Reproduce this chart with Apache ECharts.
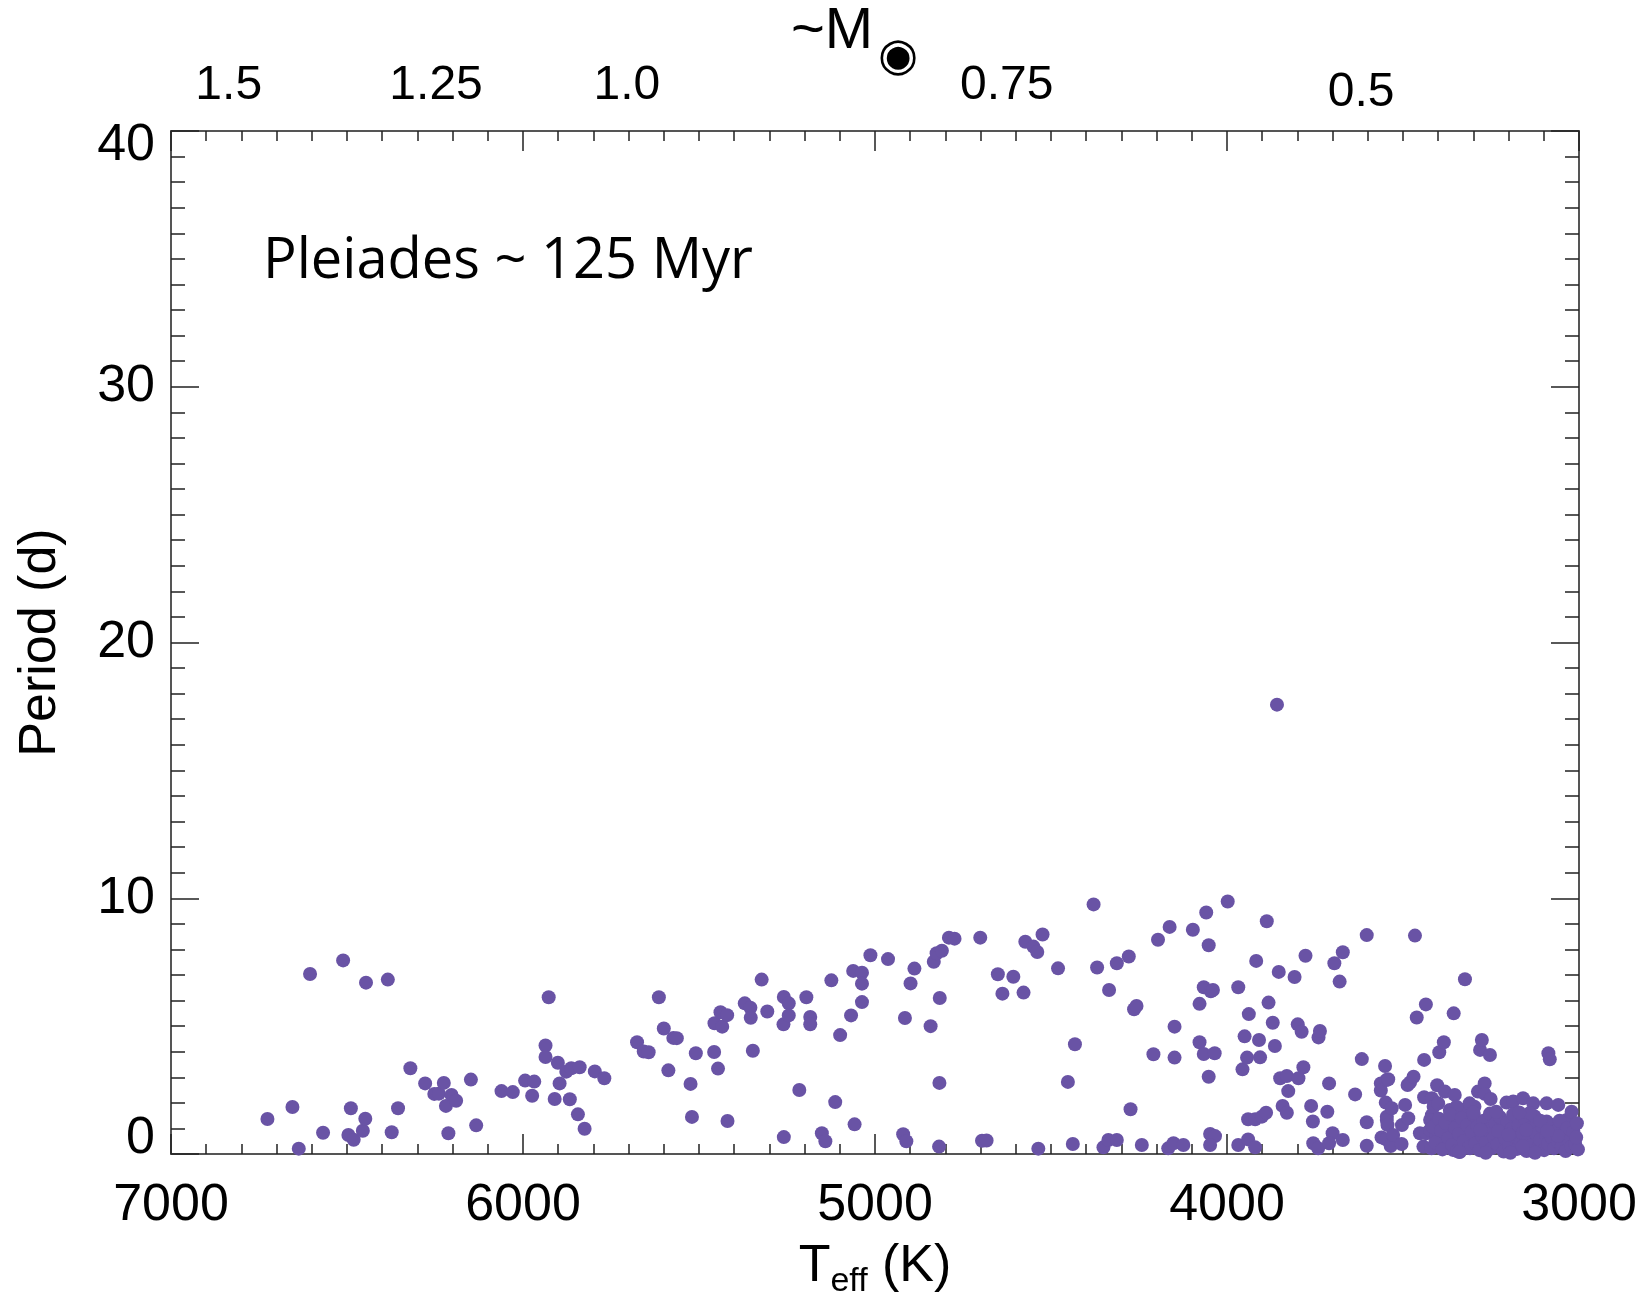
<!DOCTYPE html>
<html><head><meta charset="utf-8">
<script src="https://cdn.jsdelivr.net/npm/echarts@6/dist/echarts.min.js"></script>
<style>html,body{margin:0;padding:0;background:#fff}#c{width:1644px;height:1296px}</style>
</head><body><div id="c"></div>
<script>
// Teff (K) and rotation period (d) of Pleiades stars
const tempK = [
6726,6655,6637,6605,6568,6511,6496,6489,6481,6455,6448,6446,6384,6373,6355,6320,6278,6252,6239,6225,
6219,6212,6203,6190,6148,6133,6061,6029,5994,5974,5968,5936,5936,5927,5910,5901,5896,5877,5867,5863,
5844,5839,5825,5796,5769,5676,5657,5643,5614,5600,5587,5573,5563,5524,5520,5509,5457,5456,5446,5439,
5434,5420,5419,5370,5354,5353,5347,5322,5306,5260,5259,5259,5245,5245,5215,5195,5184,5184,5151,5141,
5124,5113,5099,5068,5062,5058,5037,5037,5037,5013,4963,4920,4915,4911,4899,4888,4842,4833,4825,4818,
4817,4816,4810,4790,4774,4701,4696,4683,4651,4638,4607,4578,4573,4550,4539,4536,4524,4480,4452,4438,
4432,4379,4369,4351,4337,4335,4313,4313,4279,4274,4264,4257,4242,4209,4196,4167,4163,4152,4149,4149,
4124,4097,4078,4078,4066,4066,4059,4052,4052,4048,4046,4040,4035,4034,4048,3998,3968,3968,3956,3950,
3943,3940,3938,3920,3917,3909,3906,3940,3920,3901,3889,3887,3882,3870,3864,3858,3853,3849,3842,3830,
3830,3826,3808,3799,3797,3788,3783,3777,3761,3756,3755,3741,3740,3736,3715,3710,3700,3710,3695,3680,
3671,3671,3636,3617,3603,3603,3603,3563,3563,3561,3551,3549,3548,3547,3546,3546,3544,3542,3535,3532,
3528,3504,3503,3494,3487,3485,3480,3470,3466,3461,3452,3442,3440,3440,3435,3434,3419,3418,3418,3413,
3403,3400,3397,3384,3381,3356,3353,3324,3297,3287,3281,3276,3268,3268,3253,3251,3206,3187,3159,3130,
3111,3092,3092,3087,3083,3059,3035,3021,
3423,3404,3386,3367,3347,3330,3311,3338,3319,3301,3376,3358,3338,3320,3395,3376,3358,3338,3310,3423,
3405,3367,3348,3330,3311,
3415,3408,3398,3392,3388,3379,3371,3366,3360,3352,3346,3341,3333,3327,3318,3312,3305,3299,3294,3288,
3283,3276,3271,3265,3259,3253,3248,3242,3237,3231,3225,3220,3214,3209,3203,3198,3192,3187,3182,3176,
3171,3165,3160,3154,3149,3143,3138,3132,3127,3121,3116,3110,3104,3099,3093,3088,3082,3077,3071,3066,
3060,3055,3049,3044,3038,3033,3027,3022,3016,3011,3006,3003,3008,3140,3170,3235,3300,3195,3125,3265,
3340,3230,3160,3110,3280,3060,3200,3150,3090
];
const periodD = [
1.37,1.84,0.21,7.04,0.83,7.57,0.74,1.79,0.56,0.91,1.38,6.70,6.82,0.85,1.79,3.35,2.76,2.35,2.36,2.78,
1.88,0.81,2.31,2.08,2.91,1.12,2.46,2.42,2.87,2.28,2.83,4.24,3.79,6.13,2.15,3.57,2.76,3.22,2.14,3.35,
1.55,3.39,0.99,3.23,2.96,4.37,4.01,3.98,6.13,4.91,3.27,4.54,4.53,2.74,1.45,3.94,3.99,5.11,3.34,5.54,
4.98,5.43,1.29,5.89,5.72,5.33,4.04,6.82,5.57,5.07,6.14,0.66,5.89,5.42,2.50,6.13,5.36,5.07,0.81,0.50,
6.79,2.03,4.65,5.42,7.16,1.16,7.09,6.66,5.94,7.77,7.62,0.77,5.32,0.50,6.67,7.25,5.00,7.52,7.85,0.29,
2.78,6.10,7.95,8.46,8.42,8.46,0.52,0.53,7.03,6.27,6.93,6.31,8.30,8.11,7.90,0.21,8.58,7.26,2.82,0.39,
4.29,9.76,7.29,0.26,0.55,6.41,0.55,7.46,7.72,1.75,5.66,5.79,0.35,3.90,8.38,0.22,8.88,0.42,4.98,3.77,
0.35,8.77,5.87,4.37,3.91,6.52,9.44,8.16,3.02,0.78,6.36,6.41,3.94,0.70,0.35,9.87,6.52,0.35,3.31,4.60,
3.77,0.57,5.47,0.26,7.55,4.46,3.78,1.36,1.36,1.46,1.61,9.10,5.92,5.13,4.22,17.57,7.12,2.96,1.88,3.05,
1.61,2.46,6.92,5.07,2.96,4.78,3.39,7.75,1.88,1.27,0.42,0.22,4.56,4.81,1.65,2.76,0.81,0.42,7.46,6.74,
7.89,0.55,2.33,3.71,8.56,1.24,0.32,2.76,2.48,0.65,3.44,2.01,0.57,2.89,1.46,1.33,1.13,2.92,0.31,1.79,
0.74,0.39,1.13,1.92,2.70,1.40,2.80,3.02,8.54,5.34,0.81,0.29,3.68,2.22,5.85,0.81,0.22,2.18,1.52,1.85,
2.69,1.98,3.98,4.37,2.44,5.50,2.31,6.83,1.85,2.44,4.07,4.46,2.76,2.35,3.87,2.15,2.01,2.05,2.18,1.98,
1.20,1.27,1.98,3.94,3.70,1.92,1.33,1.65,
1.33,1.20,1.07,1.33,1.46,1.72,1.98,1.20,0.94,1.33,0.81,0.68,0.55,0.42,0.55,0.29,0.16,0.09,0.22,0.94,
0.74,1.72,1.85,1.33,0.81,
1.05,0.45,1.38,0.92,0.18,1.22,0.62,1.55,0.35,1.02,0.12,0.78,1.40,0.50,1.12,0.28,0.88,1.52,0.42,1.08,
0.15,0.72,1.30,0.48,0.95,1.58,0.22,0.66,1.18,0.38,1.45,0.85,0.10,0.58,1.25,0.32,0.98,1.55,0.68,0.20,
1.12,0.45,0.82,1.38,0.12,0.60,1.02,0.35,1.48,0.78,0.25,0.55,1.05,0.15,0.72,0.40,1.15,0.62,0.22,0.90,
0.48,1.30,0.30,0.75,0.12,1.02,0.52,0.28,0.85,0.40,1.20,0.18,0.65,1.60,1.62,1.65,1.62,0.05,0.05,0.05,
0.08,0.90,0.30,1.30,0.95,0.70,0.75,0.95,0.90
];
// approximate stellar masses marked along the top axis, at their Teff
const massLabels = ['1.5','1.25','1.0','0.75','0.5'];
const massTeff = [6836, 6247, 5705, 4626, 3619];

const FONT = 'Liberation Sans, Arial, Helvetica, sans-serif';
const points = tempK.map((t, i) => [t, periodD[i]]);

const tickStyle = { color: '#222', width: 1.5 };
const lineStyle = { color: '#555', width: 2 };

function xAx(pos, labels) {
  return {
    type: 'value', position: pos, min: 3000, max: 7000, interval: 1000, inverse: true,
    axisLine: { show: true, onZero: false, lineStyle },
    axisTick: { show: true, inside: true, length: 20, lineStyle: tickStyle },
    minorTick: { show: true, splitNumber: 10, length: 10, lineStyle: tickStyle },
    splitLine: { show: false }, minorSplitLine: { show: false },
    axisLabel: { show: labels, fontSize: 52, fontFamily: FONT, color: '#000', margin: 26,
      formatter: v => String(v) }
  };
}
function yAx(pos, labels) {
  return {
    type: 'value', position: pos, min: 0, max: 40, interval: 10,
    axisLine: { show: true, onZero: false, lineStyle },
    axisTick: { show: true, inside: true, length: 28, lineStyle: tickStyle },
    minorTick: { show: true, splitNumber: 10, length: 14, lineStyle: tickStyle },
    splitLine: { show: false }, minorSplitLine: { show: false },
    axisLabel: {
      show: labels, color: '#000', margin: 16,
      formatter: v => v === 0 ? '{lo|0}' : (v === 40 ? '{hi|40}' : '{n|' + v + '}'),
      rich: {
        n: { fontSize: 52, fontFamily: FONT, color: '#000' },
        lo: { fontSize: 52, fontFamily: FONT, color: '#000', padding: [0, 0, 30, 0] },
        hi: { fontSize: 52, fontFamily: FONT, color: '#000', padding: [30, 0, 0, 0] }
      }
    }
  };
}

const xb = xAx('bottom', true);
xb.name = '{t|T}{s|eff}{t| (K)}';
xb.nameLocation = 'middle';
xb.nameGap = 79;
xb.nameTextStyle = {
  rich: {
    t: { fontSize: 52, fontFamily: FONT, color: '#000', lineHeight: 60, verticalAlign: 'bottom' },
    s: { fontSize: 34, fontFamily: FONT, color: '#000', lineHeight: 44, verticalAlign: 'bottom', padding: [0, 0, -6, 0] }
  }
};
const xt = xAx('top', false);
// mass scale along the top
const xm = {
  type: 'value', position: 'top', min: 3000, max: 7000, inverse: true,
  axisLine: { show: false }, axisTick: { show: false }, splitLine: { show: false },
  axisLabel: {
    show: true, margin: 14, customValues: massTeff,
    formatter: v => {
      const i = massTeff.indexOf(v);
      const s = i >= 0 ? massLabels[i] : '';
      return i === massTeff.length - 1 ? '{d|' + s + '}' : '{u|' + s + '}';
    },
    rich: {
      u: { fontSize: 48, fontFamily: FONT, color: '#000', padding: [0, 0, 7, 0] },
      d: { fontSize: 48, fontFamily: FONT, color: '#000', padding: [0, 0, 0, 0] }
    }
  }
};
const yl = yAx('left', true);
yl.name = 'Period (d)';
yl.nameLocation = 'middle';
yl.nameGap = 104;
yl.nameTextStyle = { fontSize: 52, fontFamily: FONT, color: '#000' };

const option = {
  animation: false,
  backgroundColor: '#fff',
  title: [
    {
      text: '~M', left: 786, top: -6,
      textStyle: { fontSize: 58, fontFamily: FONT, fontWeight: 'normal', color: '#000', lineHeight: 66 }
    },
    {
      text: '◉', left: 873, top: 27,
      textStyle: { fontSize: 46, fontFamily: 'DejaVu Sans', fontWeight: 'normal', color: '#000', lineHeight: 52 }
    },
    {
      text: 'Pleiades ~ 125 Myr', left: 258, top: 229,
      textStyle: { fontSize: 56, fontFamily: 'Open Sans, Lato, sans-serif', fontWeight: 'normal', color: '#000' }
    }
  ],
  grid: { left: 171, right: 65, top: 131, bottom: 142, containLabel: false, outerBoundsMode: 'none' },
  xAxis: [xb, xt, xm],
  yAxis: [yl, yAx('right', false)],
  series: [
    {
      type: 'scatter', xAxisIndex: 0, yAxisIndex: 0, data: points,
      symbol: 'circle', symbolSize: 14, clip: true,
      itemStyle: { color: '#6953a5', opacity: 1 }, z: 3
    }
  ]
};
const chart = echarts.init(document.getElementById('c'), null, { renderer: 'canvas' });
chart.setOption(option);
</script></body></html>
